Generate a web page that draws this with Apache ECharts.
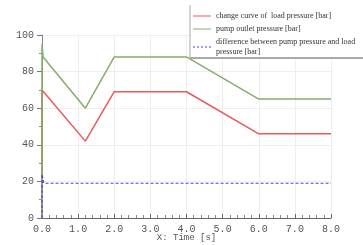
<!DOCTYPE html>
<html>
<head>
<meta charset="utf-8">
<script src="https://cdn.jsdelivr.net/npm/echarts@6/dist/echarts.min.js"></script>
<style>
html, body { margin: 0; padding: 0; background: #fff; }
#chart { width: 363px; height: 245px; }
</style>
</head>
<body>
<div id="chart"></div>
<script>
// series: [time s, pressure bar]
const loadPressure = [[0, 0], [0, 70], [0.03, 69], [1.2, 42], [2.0, 69], [4.0, 69], [6.0, 46], [8.0, 46]];
const pumpPressure = [[0, 0], [0, 95], [0.03, 88], [1.2, 60], [2.0, 88], [4.0, 88], [6.0, 65], [8.0, 65]];
const diffPressure = [[0, 0], [0, 24], [0.05, 19], [8.0, 19]];
const seriesNames = [
	'change curve of  load pressure [bar]',
	'pump outlet pressure [bar]',
	'difference between pump pressure and load pressure [bar]'
];

const solidIcon = 'path://M0,0h18v1h-18z';
const dashIcon = 'path://M0,0h2v1h-2zM4,0h2v1h-2zM8,0h2v1h-2zM12,0h2v1h-2zM16,0h2v1h-2z';

var chartDom = document.getElementById('chart');
var myChart = echarts.init(chartDom);
var option;

option = {
	animation: false,
	grid: { left: 42, right: 32, top: 35, bottom: 27, outerBoundsMode: 'none' },
	legend: {
		orient: 'vertical',
		left: 191,
		top: 9,
		itemWidth: 18,
		itemHeight: 1.2,
		itemGap: 3,
		padding: [2, 4, 1, 2],
		backgroundColor: '#fff',
		textStyle: {
			fontFamily: 'Liberation Serif',
			fontSize: 8,
			color: '#333',
			width: 146,
			overflow: 'break',
			lineHeight: 10
		},
		data: [
			{ name: seriesNames[0], icon: solidIcon },
			{ name: seriesNames[1], icon: solidIcon },
			{ name: seriesNames[2], icon: dashIcon }
		]
	},
	graphic: [
		{ type: 'line', z: 100, shape: { x1: 190, y1: 5, x2: 190, y2: 58 }, style: { stroke: '#aaa', lineWidth: 1 } },
		{ type: 'line', z: 100, shape: { x1: 190, y1: 58, x2: 363, y2: 58 }, style: { stroke: '#aaa', lineWidth: 2 } }
	],
	xAxis: {
		type: 'value',
		min: 0,
		max: 8,
		interval: 1,
		name: 'X: Time [s]',
		nameLocation: 'middle',
		nameGap: 20,
		nameMoveOverlap: false,
		nameTextStyle: { fontFamily: 'Liberation Mono', fontSize: 9, color: '#555', verticalAlign: 'middle' },
		axisLine: { lineStyle: { color: '#666' } },
		axisTick: { inside: true, length: 4, lineStyle: { color: '#666' } },
		minorTick: { show: true, splitNumber: 5, length: 3, lineStyle: { color: '#888' } },
		axisLabel: {
			fontFamily: 'Liberation Mono',
			fontSize: 10,
			color: '#555',
			margin: 6,
			formatter: v => v.toFixed(1)
		},
		splitLine: { show: true, lineStyle: { color: '#eee' } }
	},
	yAxis: {
		type: 'value',
		min: 0,
		max: 100,
		interval: 20,
		axisLine: { show: true, lineStyle: { color: '#888' } },
		axisTick: { show: true, length: 5, lineStyle: { color: '#777' } },
		minorTick: { show: true, splitNumber: 2, length: 3, lineStyle: { color: '#888' } },
		axisLabel: { fontFamily: 'Liberation Mono', fontSize: 10, color: '#555', margin: 8 },
		splitLine: { show: true, lineStyle: { color: '#eee' } }
	},
	series: [
		{
			name: seriesNames[0],
			type: 'line',
			data: loadPressure,
			showSymbol: false,
			symbol: 'none',
			lineStyle: { color: '#e85a5e', width: 1.5 },
			itemStyle: { color: '#e85a5e' }
		},
		{
			name: seriesNames[1],
			type: 'line',
			data: pumpPressure,
			showSymbol: false,
			symbol: 'none',
			lineStyle: { color: '#86ad6a', width: 1.5 },
			itemStyle: { color: '#86ad6a' }
		},
		{
			name: seriesNames[2],
			type: 'line',
			data: diffPressure,
			showSymbol: false,
			symbol: 'none',
			lineStyle: { color: '#4646e6', width: 1.2, type: [3, 2] },
			itemStyle: { color: '#4646e6' }
		}
	]
};

option && myChart.setOption(option);
</script>
</body>
</html>
